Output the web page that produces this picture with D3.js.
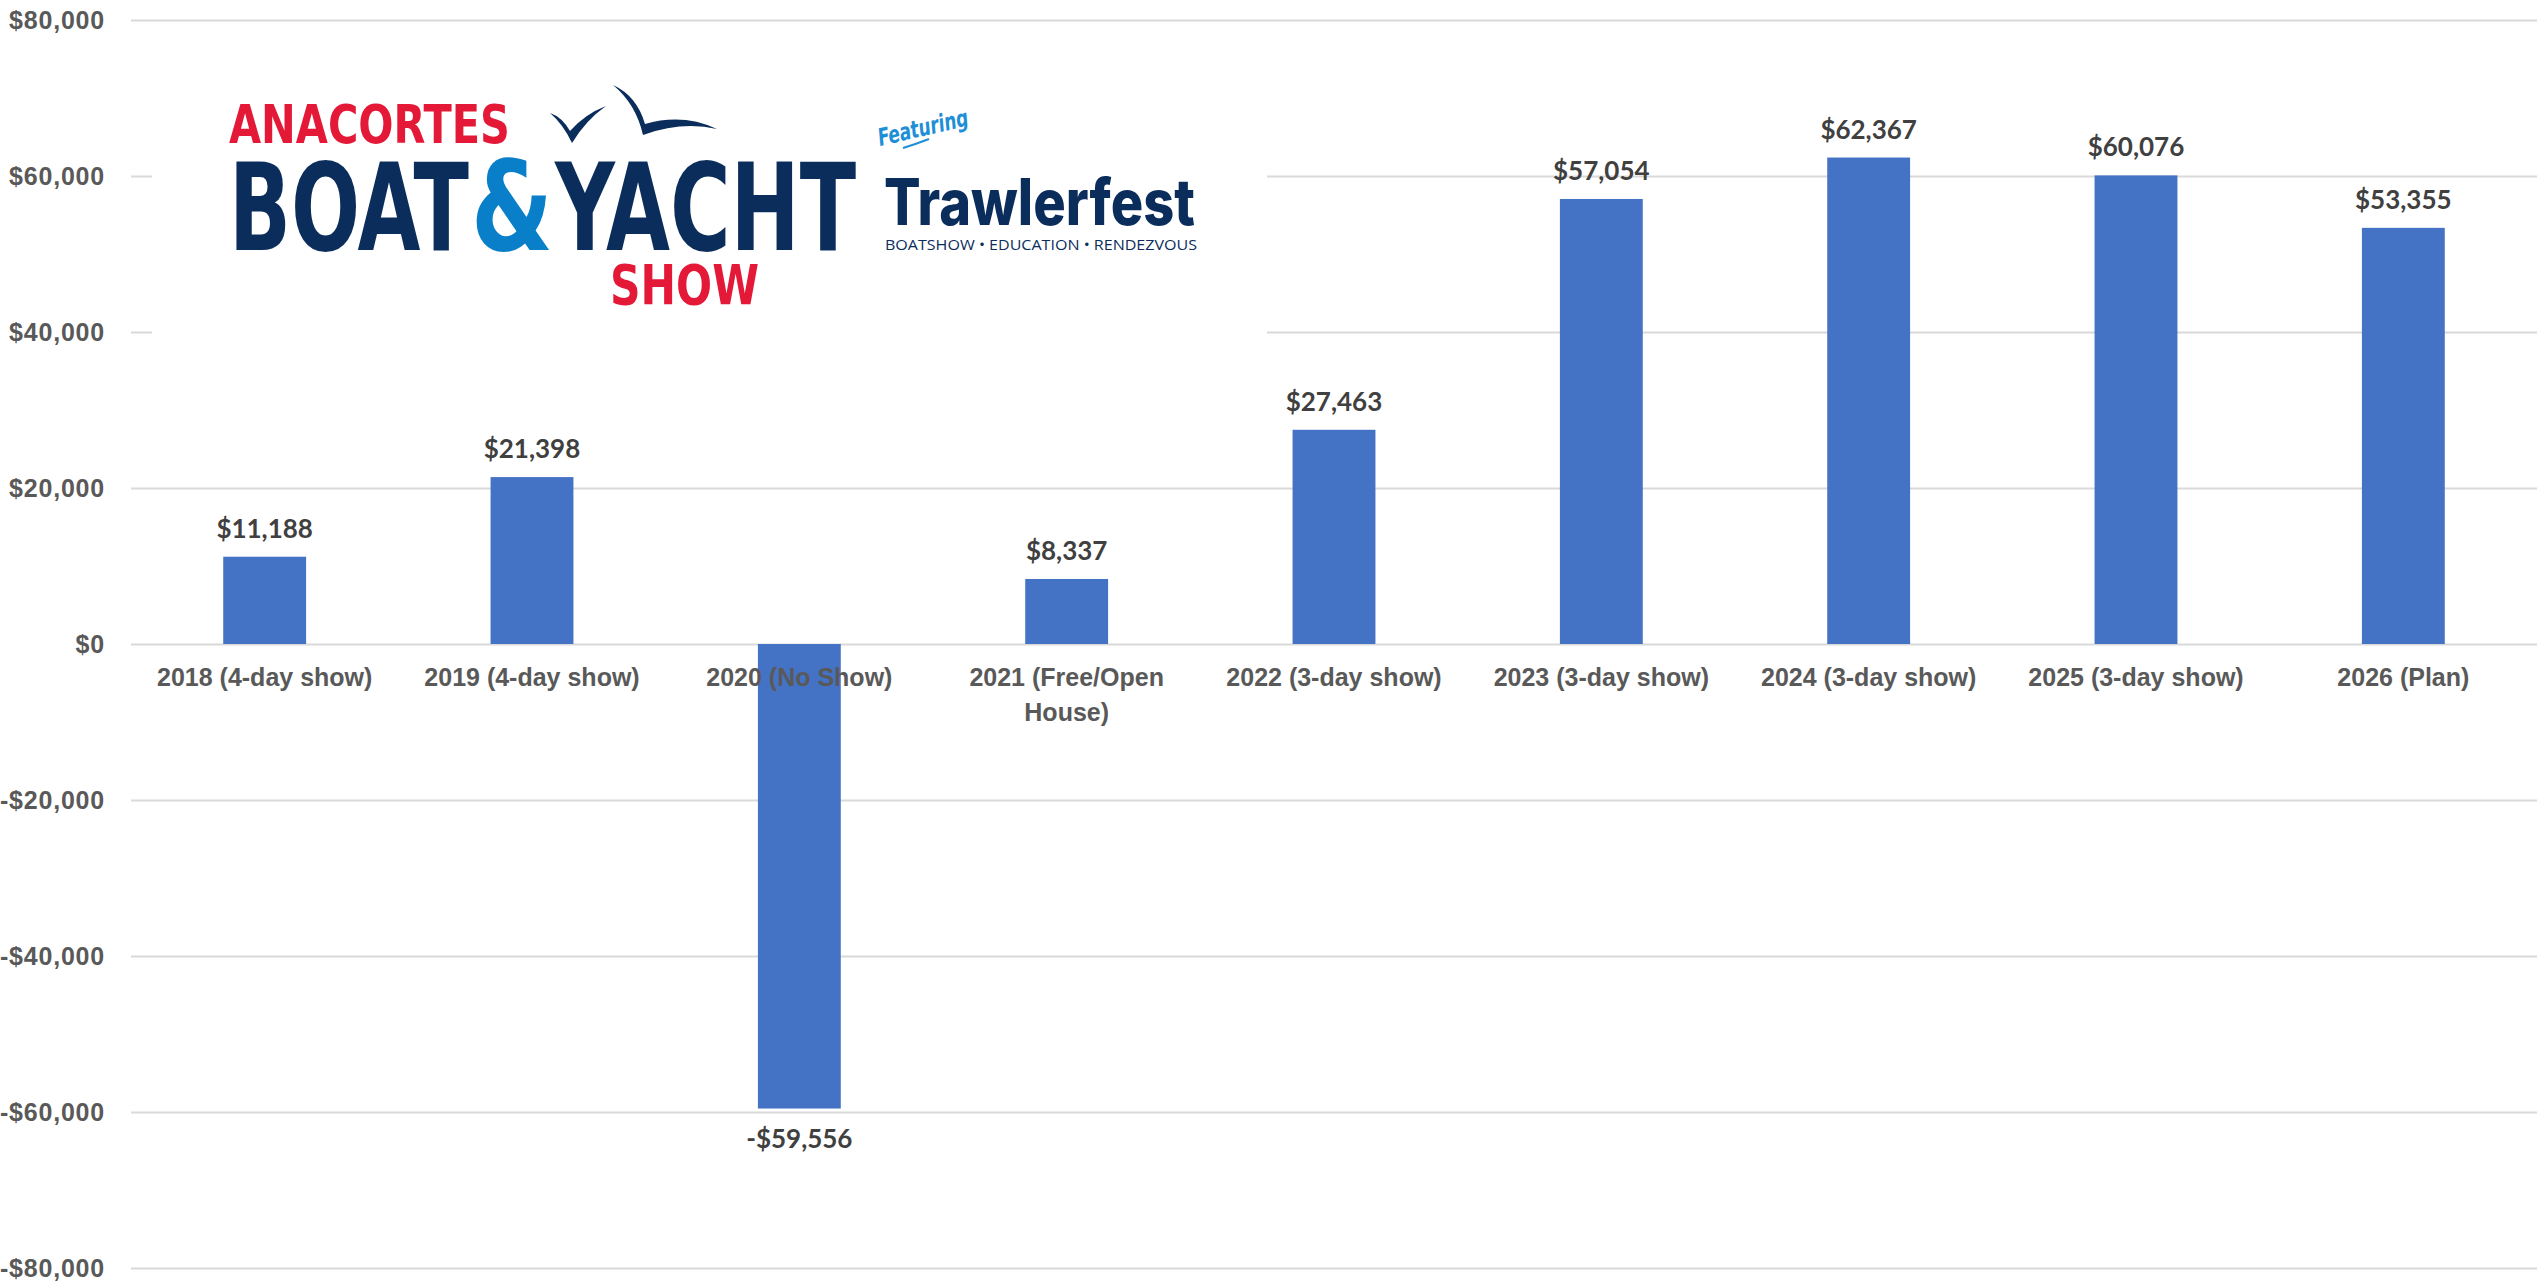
<!DOCTYPE html>
<script src="https://d3js.org/d3.v7.min.js" charset="utf-8"></script>
<style>
    body { margin: 0; background: #fff; }
    svg { display: block; font-family: Lato, "Open Sans", sans-serif; }
</style>
<div id="chart"></div>
<script>
    var categories = ["2018 (4-day show)", "2019 (4-day show)", "2020 (No Show)", "2021 (Free/Open House)",
        "2022 (3-day show)", "2023 (3-day show)", "2024 (3-day show)", "2025 (3-day show)", "2026 (Plan)"];
    var values = [11188, 21398, -59556, 8337, 27463, 57054, 62367, 60076, 53355];
    var tickValues = [-80000, -60000, -40000, -20000, 0, 20000, 40000, 60000, 80000];

    var width = 2539, height = 1281,
        margin = { top: 20, right: 2, bottom: 13, left: 131 },
        innerW = width - margin.left - margin.right,
        innerH = height - margin.top - margin.bottom;

    function money(v) {
        return (v < 0 ? "-$" : "$") + d3.format(",")(Math.abs(v));
    }

    var svg = d3.select("#chart").append("svg").attr("width", width).attr("height", height),
        g = svg.append("g").attr("transform", "translate(" + margin.left + "," + margin.top + ")");

    var x = d3.scaleBand().domain(categories).range([0, innerW]).paddingInner(0.69).paddingOuter(0.345),
        y = d3.scaleLinear().domain([-80000, 80000]).range([innerH, 0]);

    // gridlines
    g.append("g").call(d3.axisLeft(y).tickValues(tickValues).tickSize(-innerW).tickFormat(""))
        .call(function(s) { s.select(".domain").remove(); })
        .selectAll("line").attr("stroke", "#d9d9d9").attr("stroke-width", 2);

    // y labels
    g.append("g").call(d3.axisLeft(y).tickValues(tickValues).tickSize(0).tickPadding(26).tickFormat(money))
        .call(function(s) { s.select(".domain").remove(); })
        .selectAll("text").attr("fill", "#595959").attr("font-size", 25).attr("font-weight", 700)
        .attr("letter-spacing", 0.8);

    // logo (white box over the grid)
    var logo = svg.append("g");
    logo.append("rect").attr("x", 152).attr("y", 45).attr("width", 1115).attr("height", 300).attr("fill", "#fff");
    var condensed = '"Liberation Sans Narrow", "Arial Narrow", "DejaVu Sans Condensed", sans-serif';
    function word(txt, x0, base, size, len, color, font, weight) {
        return logo.append("text").text(txt).attr("x", x0).attr("y", base)
            .attr("font-size", size).attr("font-weight", weight || 700).attr("fill", color)
            .attr("font-family", font || condensed)
            .attr("textLength", len).attr("lengthAdjust", "spacingAndGlyphs");
    }
    word("ANACORTES", 229, 143, 54, 281, "#e31937");
    word("BOAT", 229, 250, 122, 240, "#0b2d5c");
    word("&", 471, 250, 124, 82, "#0a7fc9");
    word("YACHT", 555, 250, 122, 301, "#0b2d5c");
    word("SHOW", 610, 304, 55, 149, "#e31937");
    word("Trawlerfest", 884, 225, 64, 311, "#0b2d5c", 'Inter, "Open Sans", sans-serif', 800);
    word("BOATSHOW \u2022 EDUCATION \u2022 RENDEZVOUS", 885, 250, 15, 312, "#0b2d5c", '"Open Sans", sans-serif', 400);
    word("Featuring", 0, 0, 24, 92, "#1e8fd6", '"DejaVu Sans Condensed", sans-serif', 700)
        .attr("font-style", "italic").attr("transform", "translate(880,146) rotate(-13)");
    logo.append("path").attr("d", "M903,148 Q916,144 929,139").attr("stroke", "#1e8fd6")
        .attr("stroke-width", 2).attr("fill", "none");
    // gulls
    logo.append("path").attr("fill", "#0b2d5c")
        .attr("d", "M550,113 Q562,117 570,131 Q585,114 606,106 Q586,120 572,143 Q563,124 550,113 Z");
    logo.append("path").attr("fill", "#0b2d5c")
        .attr("d", "M613,85 Q637,96 645,124 Q683,113 717,129 Q682,121 643,135 Q636,104 613,85 Z");

    // bars
    g.selectAll(".bar").data(values).enter().append("rect")
        .attr("x", function(d, i) { return x(categories[i]); })
        .attr("y", function(d) { return y(Math.max(0, d)); })
        .attr("width", x.bandwidth())
        .attr("height", function(d) { return Math.abs(y(d) - y(0)); })
        .attr("fill", "#4472c4");

    // x labels
    var xa = g.append("g").attr("transform", "translate(0," + y(0) + ")")
        .call(d3.axisBottom(x).tickSize(0));
    xa.select(".domain").remove();
    xa.selectAll("text").attr("fill", "#595959").attr("font-size", 25).attr("font-weight", 700)
        .attr("y", 42).attr("dy", 0)
        .each(function(d) {
            var t = d3.select(this), words = d.split(" "), line = [], lines = [];
            t.text(null);
            var probe = t.append("tspan");
            words.forEach(function(w) {
                line.push(w);
                probe.text(line.join(" "));
                if (probe.node().getComputedTextLength() > x.bandwidth() / 0.31 * 0.95 && line.length > 1) {
                    line.pop(); lines.push(line.join(" ")); line = [w];
                }
            });
            lines.push(line.join(" "));
            probe.remove();
            lines.forEach(function(l, k) {
                t.append("tspan").attr("x", 0).attr("dy", k ? 35 : 0).text(l);
            });
        });

    // value labels
    g.selectAll(".lbl").data(values).enter().append("text")
        .attr("x", function(d, i) { return x(categories[i]) + x.bandwidth() / 2; })
        .attr("y", function(d) { return d < 0 ? y(d) + 39 : y(d) - 19; })
        .attr("text-anchor", "middle").attr("font-size", 26).attr("font-weight", 700).attr("fill", "#404040")
        .text(money);
</script>
